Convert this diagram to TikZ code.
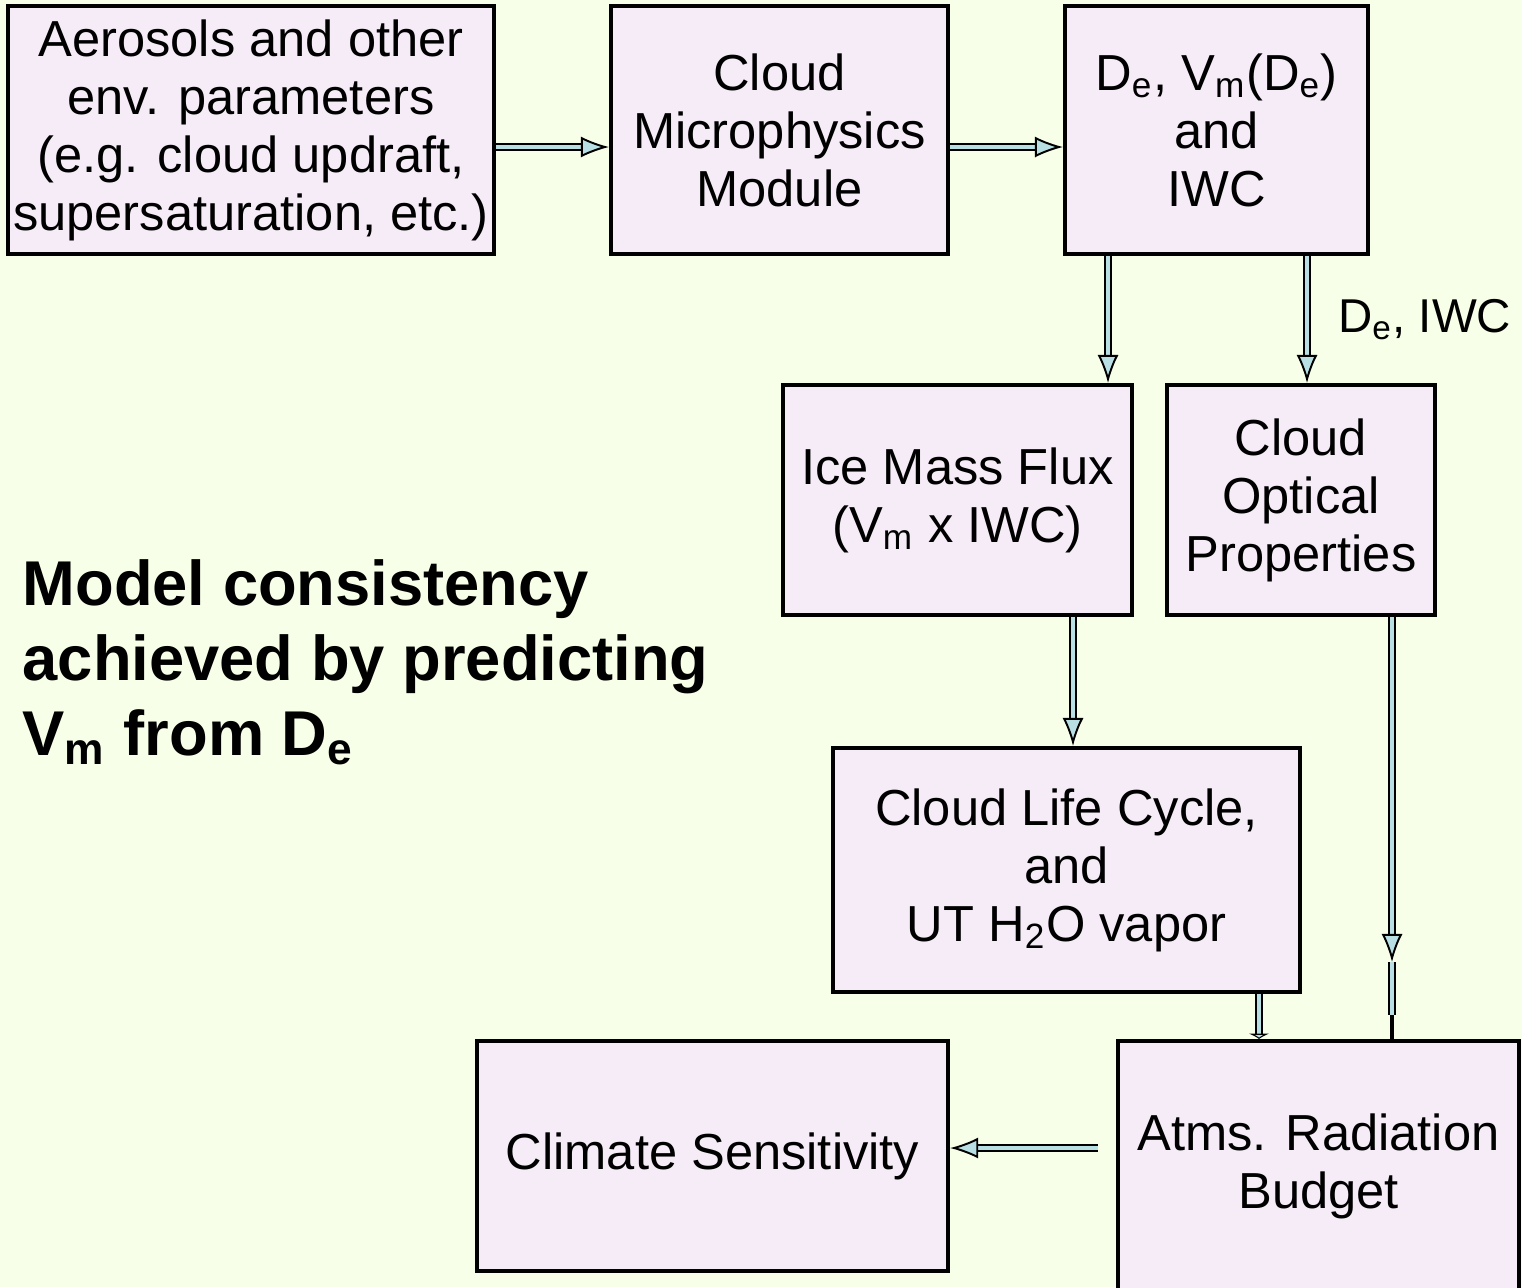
\documentclass[tikz,border=0pt]{standalone}
\usepackage{fontspec}
\setmainfont{Liberation Sans}
\usetikzlibrary{positioning, calc, arrows.meta}

\definecolor{bgyellow}{RGB}{248,255,232}
\definecolor{boxpink}{RGB}{246,236,248}
\definecolor{pipeblue}{RGB}{184,224,228}

\begin{document}
\begin{tikzpicture}[x=0.01cm, y=-0.01cm, >=stealth,
    box/.style={draw=black, line width=1.1pt, fill=boxpink, align=center, inner sep=0pt,
                font=\fontsize{14.4}{16.5}\selectfont},
    pipe/.style={draw=black, line width=0.55pt, double=pipeblue, double distance=1pt},
    flow/.style={pipe, -{Latex[length=8pt, width=6pt, fill=pipeblue]}}]

    % Background
    \fill[bgyellow] (0,0) rectangle (1522,1287);
    \useasboundingbox (0,0) rectangle (1522,1287);

    % Top row
    \node[box, minimum width=4.86cm, minimum height=2.48cm] (aero) at (251,130)
        {Aerosols and other\\env. parameters\\(e.g. cloud updraft,\\supersaturation, etc.)};
    \node[box, minimum width=3.37cm, minimum height=2.48cm] (micro) at (779.5,130)
        {Cloud\\Microphysics\\Module};
    \node[box, minimum width=3.03cm, minimum height=2.48cm] (dvm) at (1216.5,130)
        {D\textsubscript{e}, V\textsubscript{m}(D\textsubscript{e})\\and\\IWC};

    % Middle row
    \node[box, minimum width=3.49cm, minimum height=2.30cm] (ice) at (957.5,500)
        {Ice Mass Flux\\(V\textsubscript{m} x IWC)};
    \node[box, minimum width=2.68cm, minimum height=2.30cm] (opt) at (1301,500)
        {Cloud\\Optical\\Properties};
    \node[box, minimum width=4.67cm, minimum height=2.44cm] (life) at (1066.5,870)
        {Cloud Life Cycle,\\and\\UT H\textsubscript{2}O vapor};

    % Bottom row
    \node[box, minimum width=4.71cm, minimum height=2.30cm] (clim) at (712.5,1156)
        {Climate Sensitivity};
    \node[box, minimum width=4.01cm, minimum height=2.50cm] (rad) at (1318.5,1166)
        {Atms. Radiation\\Budget};

    % Connector lanes
    \coordinate (rowA) at (0,147);
    \coordinate (rowB) at (0,1148);
    \coordinate (colA) at (1108,0);
    \coordinate (colB) at (1307,0);
    \coordinate (colC) at (1073,0);
    \coordinate (colD) at (1259,0);
    \coordinate (colE) at (1392,0);
    \coordinate (stopE) at (0,962);
    \coordinate (endE) at (0,1015);

    % Connectors
    \draw[flow] (aero.east |- rowA) -- (micro.west |- rowA);
    \draw[flow] (micro.east |- rowA) -- (dvm.west |- rowA);
    \draw[flow] (colA |- dvm.south) -- (colA |- ice.north);
    \draw[flow] (colB |- dvm.south) -- (colB |- opt.north)
        node[midway, anchor=west, xshift=0.3cm, inner sep=0pt, font=\fontsize{13.5}{16}\selectfont] (dlab)
        {D\textsubscript{e}, IWC};
    \draw[flow] (colC |- ice.south) -- (colC |- life.north);
    \draw[pipe, -{Latex[length=1.5pt, width=6pt, fill=pipeblue]}] (colD |- life.south) -- (colD |- rad.north);
    \draw[flow] (colE |- opt.south) -- (colE |- stopE);
    \draw[pipe] (colE |- stopE) -- (colE |- endE);
    \draw[line width=1.1pt] (colE |- endE) -- (colE |- rad.north);
    \draw[flow, shorten <=0.18cm] (rad.west |- rowB) -- (clim.east |- rowB);

    % Side remark
    \node[anchor=base west, align=left, inner sep=0pt, font=\bfseries\fontsize{18}{21.3}\selectfont] (note) at (22,755)
        {Model consistency\\achieved by predicting\\V\textsubscript{m} from D\textsubscript{e}};

\end{tikzpicture}
\end{document}
